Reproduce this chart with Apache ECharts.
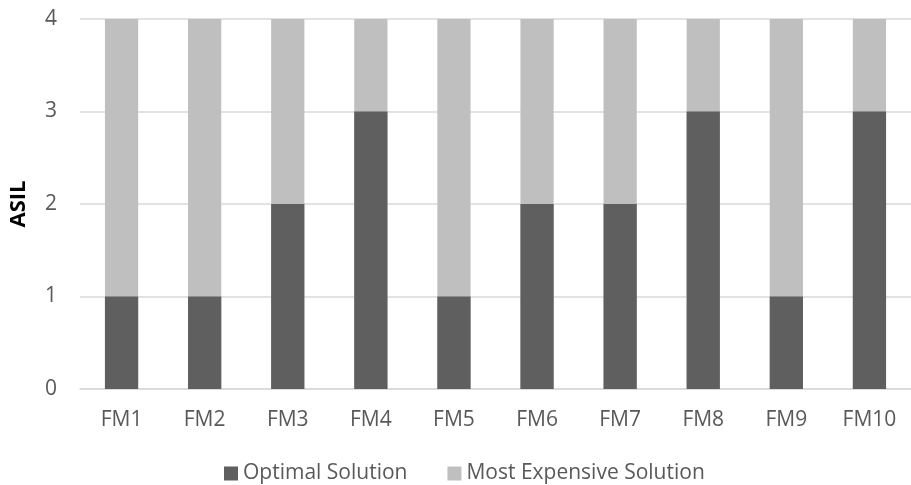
<!DOCTYPE html>
<html>
<head>
<meta charset="utf-8">
<script src="https://cdn.jsdelivr.net/npm/echarts@6/dist/echarts.min.js"></script>
<style>
  html, body { margin: 0; padding: 0; background: #fff; }
  #chart { width: 911px; height: 485px; }
</style>
</head>
<body>
<div id="chart"></div>
<script>
// Failure modes and the ASIL assigned by each allocation
const categories = ['FM1', 'FM2', 'FM3', 'FM4', 'FM5', 'FM6', 'FM7', 'FM8', 'FM9', 'FM10'];
const optimalSolution = [1, 1, 2, 3, 1, 2, 2, 3, 1, 3];
const mostExpensiveSolution = [4, 4, 4, 4, 4, 4, 4, 4, 4, 4];
const yTicks = [0, 1, 2, 3, 4];

const textColor = '#595959';
const fontFamily = '"Open Sans", "Liberation Sans", sans-serif';
const fontSize = 21;

const chart = echarts.init(document.getElementById('chart'));
chart.setOption({
  animation: false,
  textStyle: { fontFamily: fontFamily },
  // plot area runs slightly past the right edge of the canvas
  grid: { left: 79, width: 840, top: 19, bottom: 96, containLabel: false },
  legend: {
    data: ['Optimal Solution', 'Most Expensive Solution'],
    top: 458,
    left: 219,
    itemWidth: 14,
    itemHeight: 14,
    itemGap: 40,
    icon: 'rect',
    textStyle: { color: textColor, fontSize: fontSize, fontFamily: fontFamily }
  },
  xAxis: {
    type: 'category',
    data: categories,
    axisLine: { lineStyle: { color: '#d9d9d9', width: 1.5 } },
    axisTick: { show: false },
    axisLabel: { color: textColor, fontSize: fontSize, margin: 21, fontFamily: fontFamily }
  },
  yAxis: {
    type: 'value',
    min: yTicks[0],
    max: yTicks[yTicks.length - 1],
    interval: 1,
    name: 'ASIL',
    nameLocation: 'middle',
    nameGap: 50,
    nameTextStyle: { color: '#000', fontWeight: 'bold', fontSize: 22, fontFamily: fontFamily },
    axisLine: { show: false },
    axisTick: { show: false },
    axisLabel: { color: textColor, fontSize: fontSize, margin: 23, fontFamily: fontFamily },
    splitLine: { lineStyle: { color: '#d9d9d9', width: 1.5 } }
  },
  series: [
    {
      name: 'Most Expensive Solution',
      type: 'bar',
      data: mostExpensiveSolution,
      barWidth: '40%',
      barGap: '-100%',
      itemStyle: { color: '#bfbfbf' },
      z: 2
    },
    {
      name: 'Optimal Solution',
      type: 'bar',
      data: optimalSolution,
      barWidth: '40%',
      barGap: '-100%',
      itemStyle: { color: '#5f5f5f' },
      z: 3
    }
  ]
});
</script>
</body>
</html>
